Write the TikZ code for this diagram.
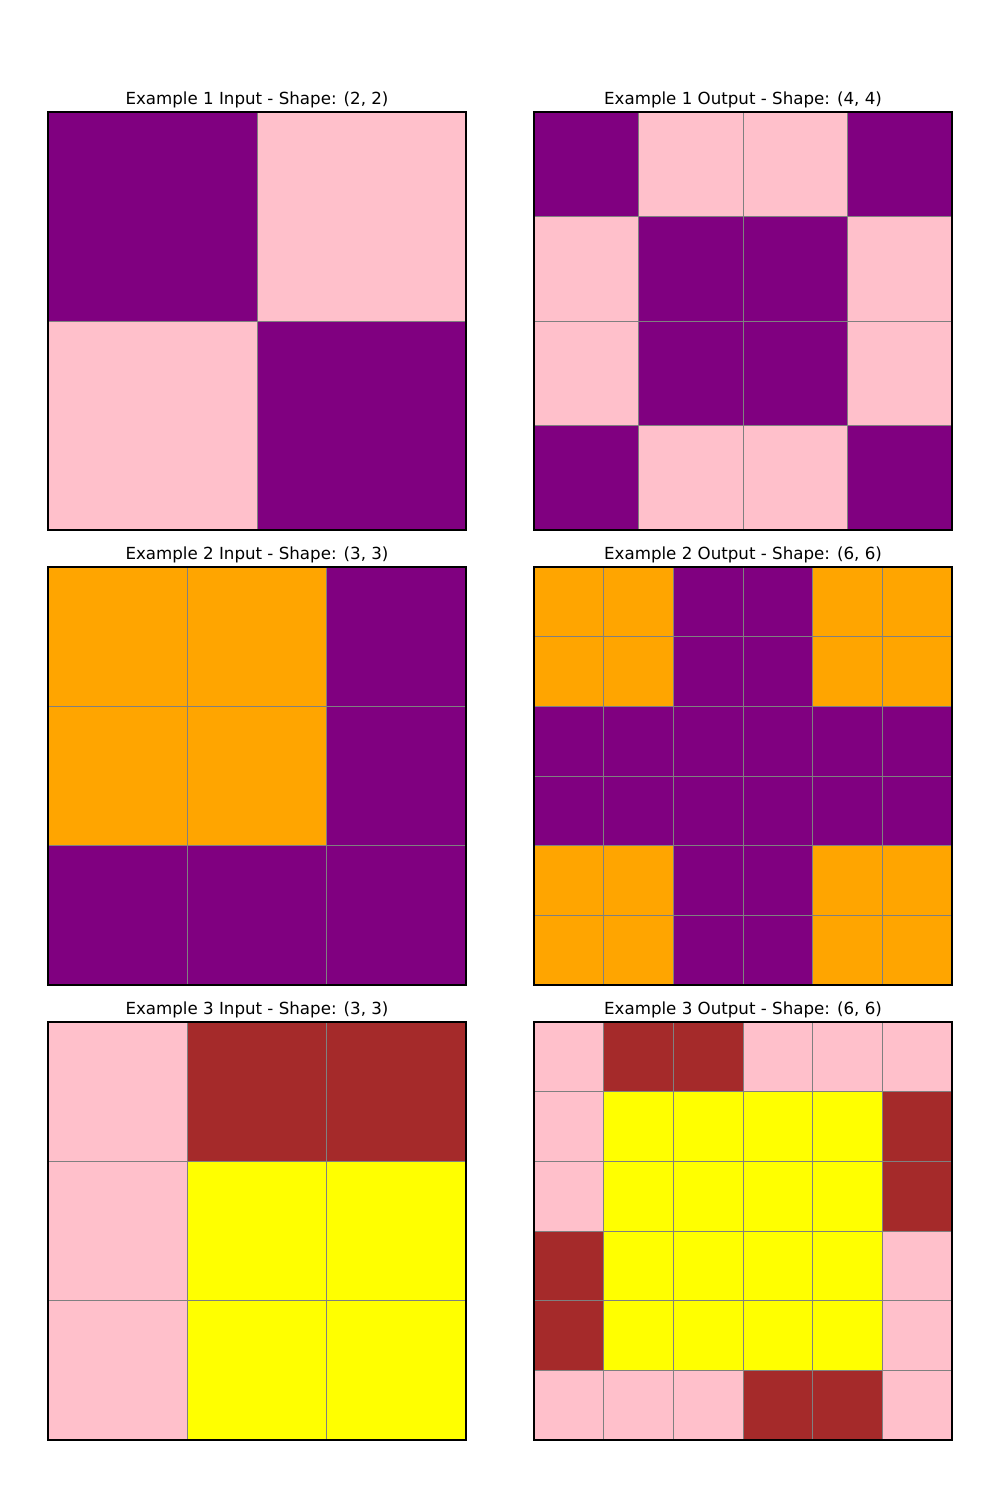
\documentclass[tikz,border=0pt]{standalone}
\usepackage{fontspec}
\setmainfont{DejaVu Sans}
\definecolor{cpurple}{HTML}{800080}
\definecolor{cpink}{HTML}{FFC0CB}
\definecolor{corange}{HTML}{FFA500}
\definecolor{cbrown}{HTML}{A52A2A}
\definecolor{cyellow}{HTML}{FFFF00}
\definecolor{cgrid}{HTML}{808080}
\newcommand{\gridpanel}[4]{% x0, y0, n, rows
  \pgfmathsetmacro{\cs}{418/#3}
  \foreach \row [count=\i from 0] in {#4} {
    \foreach \c [count=\j from 0] in \row {
      \fill[\c] ({#1+\j*\cs},{#2+\i*\cs}) rectangle ++(\cs,\cs);
    }
  }
  \foreach \k in {1,...,\numexpr#3-1\relax} {
    \draw[gridline] ({#1+\k*\cs},#2) -- ++(0,418);
    \draw[gridline] (#1,{#2+\k*\cs}) -- ++(418,0);
  }
  \draw[frame] (#1,#2) rectangle ++(418,418);
}
\begin{document}
\begin{tikzpicture}[x=0.72pt,y=-0.72pt,
	gridline/.style={ cgrid, line width=0.72pt },
	frame/.style={ black, line width=0.8pt },
	paneltitle/.style={ font=\fontsize{12pt}{14pt}\selectfont, inner sep=0pt, anchor=base }
]
\useasboundingbox (0,0) rectangle (1000,1500);

% titles
\node at (257,104) (t1in) [paneltitle] {Example 1 Input - Shape: (2, 2)};
\node at (743,104) (t1out) [paneltitle] {Example 1 Output - Shape: (4, 4)};
\node at (257,559) (t2in) [paneltitle] {Example 2 Input - Shape: (3, 3)};
\node at (743,559) (t2out) [paneltitle] {Example 2 Output - Shape: (6, 6)};
\node at (257,1014) (t3in) [paneltitle] {Example 3 Input - Shape: (3, 3)};
\node at (743,1014) (t3out) [paneltitle] {Example 3 Output - Shape: (6, 6)};

% example 1
\gridpanel{48}{112}{2}{{cpurple,cpink},{cpink,cpurple}}
\gridpanel{534}{112}{4}{{cpurple,cpink,cpink,cpurple},{cpink,cpurple,cpurple,cpink},{cpink,cpurple,cpurple,cpink},{cpurple,cpink,cpink,cpurple}}

% example 2
\gridpanel{48}{567}{3}{{corange,corange,cpurple},{corange,corange,cpurple},{cpurple,cpurple,cpurple}}
\gridpanel{534}{567}{6}{{corange,corange,cpurple,cpurple,corange,corange},{corange,corange,cpurple,cpurple,corange,corange},{cpurple,cpurple,cpurple,cpurple,cpurple,cpurple},{cpurple,cpurple,cpurple,cpurple,cpurple,cpurple},{corange,corange,cpurple,cpurple,corange,corange},{corange,corange,cpurple,cpurple,corange,corange}}

% example 3
\gridpanel{48}{1022}{3}{{cpink,cbrown,cbrown},{cpink,cyellow,cyellow},{cpink,cyellow,cyellow}}
\gridpanel{534}{1022}{6}{{cpink,cbrown,cbrown,cpink,cpink,cpink},{cpink,cyellow,cyellow,cyellow,cyellow,cbrown},{cpink,cyellow,cyellow,cyellow,cyellow,cbrown},{cbrown,cyellow,cyellow,cyellow,cyellow,cpink},{cbrown,cyellow,cyellow,cyellow,cyellow,cpink},{cpink,cpink,cpink,cbrown,cbrown,cpink}}

\end{tikzpicture}
\end{document}
